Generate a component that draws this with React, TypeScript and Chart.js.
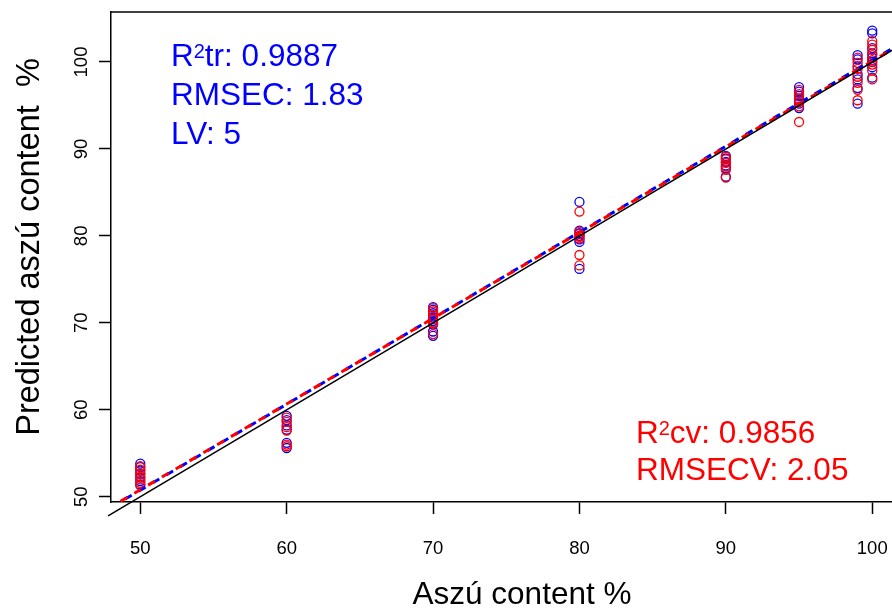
import React, { useEffect, useRef } from "react";
import { Chart, registerables } from "chart.js";

Chart.register(...registerables);

const FONT = "'Liberation Sans', Arial, Helvetica, sans-serif";
const BLUE = "#0000FF";
const RED = "#FF0000";

// Reference content levels (x) of each sample group
const groupX = [50, 60, 70, 80, 90, 95, 99, 100];

// Calibration predictions (blue) per group
const calib50 = [53.8, 53.4, 53.0, 52.6, 52.2, 51.8, 51.4];
const calib60 = [59.3, 58.8, 58.2, 57.7, 56.2, 55.6];
const calib70 = [71.8, 71.5, 71.1, 70.6, 70.2, 69.8, 69.0, 68.5];
const calib80 = [83.9, 80.6, 80.3, 80.0, 79.6, 79.3, 76.2];
const calib90 = [89.2, 88.9, 88.5, 88.1, 87.8, 86.8];
const calib95 = [97.1, 96.6, 96.1, 95.6, 95.2, 94.7];
const calib99 = [100.8, 100.3, 99.5, 98.6, 98.0, 97.0, 95.2];
const calib100 = [103.6, 103.3, 101.6, 101.0, 100.5, 100.0, 99.4, 98.2];

// Cross-validation predictions (red) per group
const cv50 = [53.5, 53.1, 52.7, 52.3, 52.0, 51.6, 51.3];
const cv60 = [59.1, 58.6, 58.0, 57.6, 56.0, 55.8];
const cv70 = [71.7, 71.3, 70.9, 70.4, 70.0, 69.9, 68.7];
const cv80 = [82.8, 80.5, 80.2, 79.9, 79.7, 77.8, 76.6];
const cv90 = [89.1, 88.8, 88.4, 88.0, 87.6, 86.7];
const cv95 = [96.8, 96.3, 95.8, 95.4, 94.9, 93.1];
const cv99 = [100.5, 99.9, 99.2, 98.3, 97.6, 96.8, 95.6];
const cv100 = [102.4, 102.0, 101.4, 100.8, 100.2, 99.7, 99.0, 98.0];

const calibGroups = [calib50, calib60, calib70, calib80, calib90, calib95, calib99, calib100];
const cvGroups = [cv50, cv60, cv70, cv80, cv90, cv95, cv99, cv100];

// Lines: ideal (y = x) and fitted regression lines, as end points
const idealX = [47.8, 102];
const idealY = [47.8, 102];
const fitX = [48, 102];
const calibFitY = [48.77, 102.18];
const cvFitY = [48.83, 102.07];

// Axes
const xTicks = [50, 60, 70, 80, 90, 100];
const yTicks = [50, 60, 70, 80, 90, 100];
const xRange = [48, 101.35];
const yRange = [49.39, 105.75];

const xTitle = "Aszú content %";
const yTitle = "Predicted aszú content  %";
const calibStats = ["tr: 0.9887", "RMSEC: 1.83", "LV: 5"];
const cvStats = ["cv: 0.9856", "RMSECV: 2.05"];

const toPoints = (groups: number[][]) =>
  groups.flatMap((g, i) => g.map((v) => ({ x: groupX[i], y: v })));
const toLine = (xs: number[], ys: number[]) => xs.map((x, i) => ({ x, y: ys[i] }));

function drawR2(ctx: CanvasRenderingContext2D, x: number, y: number, rest: string, size: number) {
  ctx.font = `${size}px ${FONT}`;
  ctx.fillText("R", x, y);
  const w = ctx.measureText("R").width;
  const sup = Math.round(size * 0.65);
  ctx.font = `${sup}px ${FONT}`;
  ctx.fillText("2", x + w, y - (size - sup) * 0.72);
  const w2 = ctx.measureText("2").width;
  ctx.font = `${size}px ${FONT}`;
  ctx.fillText(rest, x + w + w2, y);
}

const decorPlugin = {
  id: "decor",
  afterDraw(chart: any) {
    const { ctx, chartArea } = chart;
    ctx.save();
    ctx.strokeStyle = "#000";
    ctx.lineWidth = 1.5;
    ctx.beginPath();
    ctx.moveTo(chartArea.left, chartArea.top);
    ctx.lineTo(chart.width, chartArea.top);
    ctx.stroke();

    ctx.fillStyle = "#000";
    ctx.font = `31.5px ${FONT}`;
    ctx.textAlign = "center";
    ctx.textBaseline = "middle";
    ctx.fillText(xTitle, 522, 595);
    ctx.save();
    ctx.translate(30, 247);
    ctx.rotate(-Math.PI / 2);
    ctx.font = `32.5px ${FONT}`;
    ctx.fillText(yTitle, 0, 0);
    ctx.restore();

    ctx.textAlign = "left";
    ctx.textBaseline = "alphabetic";
    const size = 31.5;
    ctx.fillStyle = BLUE;
    drawR2(ctx, 171, 66, calibStats[0], size);
    ctx.font = `${size}px ${FONT}`;
    ctx.fillText(calibStats[1], 171, 105);
    ctx.fillText(calibStats[2], 171, 144);

    ctx.fillStyle = RED;
    drawR2(ctx, 636, 443, cvStats[0], size);
    ctx.font = `${size}px ${FONT}`;
    ctx.fillText(cvStats[1], 636, 480);
    ctx.restore();
  },
};

export default function App() {
  const ref = useRef<HTMLCanvasElement>(null);
  useEffect(() => {
    if (!ref.current) return;
    const chart = new Chart(ref.current, {
      type: "scatter",
      data: {
        datasets: [
          {
            label: "ideal",
            data: toLine(idealX, idealY),
            showLine: true,
            borderColor: "#000",
            borderWidth: 1.5,
            pointRadius: 0,
            clip: false as any,
            order: 0,
          },
          {
            label: "cv fit",
            data: toLine(fitX, cvFitY),
            showLine: true,
            borderColor: RED,
            borderWidth: 3,
            borderDash: [8, 8],
            borderDashOffset: 5,
            pointRadius: 0,
            order: 1,
          },
          {
            label: "calib fit",
            data: toLine(fitX, calibFitY),
            showLine: true,
            borderColor: BLUE,
            borderWidth: 3,
            borderDash: [8, 8],
            borderDashOffset: 0,
            pointRadius: 0,
            order: 2,
          },
          {
            label: "cv",
            data: toPoints(cvGroups),
            pointStyle: "circle",
            pointRadius: 4.5,
            pointBorderWidth: 1.3,
            borderColor: RED,
            backgroundColor: "rgba(0,0,0,0)",
            order: 3,
          },
          {
            label: "calib",
            data: toPoints(calibGroups),
            pointStyle: "circle",
            pointRadius: 4.5,
            pointBorderWidth: 1.3,
            borderColor: BLUE,
            backgroundColor: "rgba(0,0,0,0)",
            order: 4,
          },
        ],
      },
      options: {
        animation: false,
        responsive: false,
        devicePixelRatio: 1,
        events: [],
        layout: { padding: { top: 12, left: 0, right: 0, bottom: 0 }, autoPadding: false },
        plugins: { legend: { display: false }, tooltip: { enabled: false } },
        scales: {
          x: {
            type: "linear",
            min: xRange[0],
            max: xRange[1],
            afterBuildTicks: (s: any) => {
              s.ticks = xTicks.map((v) => ({ value: v }));
            },
            afterFit: (s: any) => {
              s.height = 106;
              s.paddingLeft = 0;
              s.paddingRight = 0;
            },
            grid: { drawOnChartArea: false, drawTicks: true, tickLength: 12, tickColor: "#000", tickWidth: 1.5 },
            border: { display: true, color: "#000", width: 1.5 },
            ticks: { color: "#000", font: { family: FONT, size: 18.5 }, padding: 24, maxRotation: 0, autoSkip: false },
          },
          y: {
            type: "linear",
            min: yRange[0],
            max: yRange[1],
            afterBuildTicks: (s: any) => {
              s.ticks = yTicks.map((v) => ({ value: v }));
            },
            afterFit: (s: any) => {
              s.width = 111;
              s.paddingTop = 0;
              s.paddingBottom = 0;
            },
            grid: { drawOnChartArea: false, drawTicks: true, tickLength: 12, tickColor: "#000", tickWidth: 1.5 },
            border: { display: true, color: "#000", width: 1.5 },
            ticks: {
              color: "#000",
              font: { family: FONT, size: 18.5 },
              padding: 2,
              minRotation: 90,
              maxRotation: 90,
              crossAlign: "center",
              autoSkip: false,
            },
          },
        },
      },
      plugins: [decorPlugin],
    });
    return () => chart.destroy();
  }, []);
  return (
    <div style={{ position: "absolute", left: 0, top: 0, width: 892, height: 608, overflow: "hidden", background: "#fff" }}>
      <canvas ref={ref} width={892} height={608} style={{ display: "block" }} />
    </div>
  );
}
